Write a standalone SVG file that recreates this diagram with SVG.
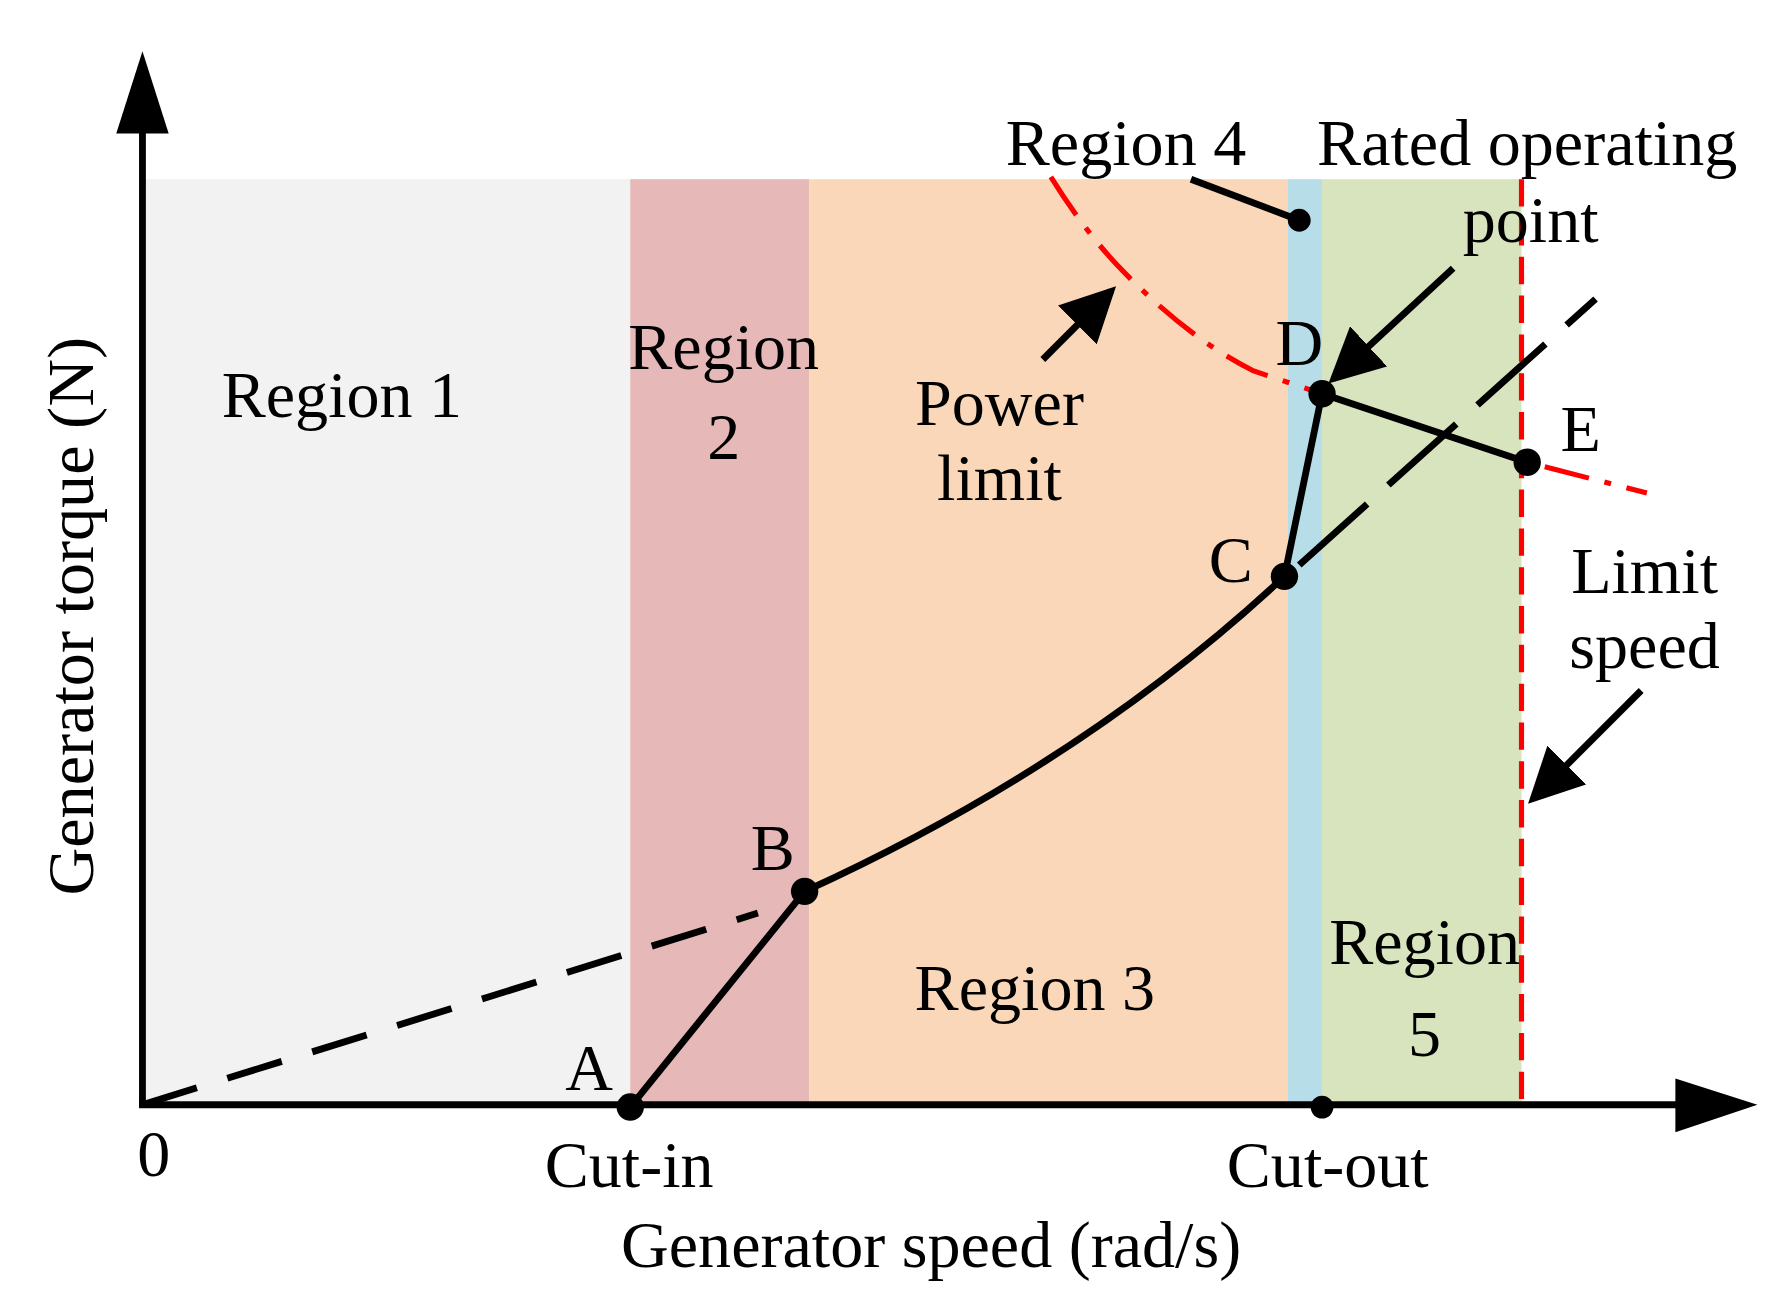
<svg xmlns="http://www.w3.org/2000/svg" width="1779" height="1300" viewBox="0 0 1779 1300">
<style>
text{font-family:"Liberation Serif","Times New Roman",serif;font-size:58px;fill:#000;text-anchor:middle}
.blk{stroke:#000;stroke-width:6;fill:none}
.red{stroke:#ff0000;stroke-width:4.5;fill:none}
</style>
<defs>
<marker id="ah" markerWidth="8" markerHeight="8" refX="7" refY="4" orient="auto" markerUnits="strokeWidth"><path d="M0,0 L8,4 L0,8 z" fill="#000"/></marker>
</defs>
<rect width="1779" height="1300" fill="#fff"/>
<g transform="scale(1.1397,1.1413)">
<g id="regions">
<rect x="125" y="157" width="428" height="811" fill="#f2f2f2"/>
<rect x="553" y="157" width="157" height="811" fill="#e6b8b7"/>
<rect x="710" y="157" width="420" height="811" fill="#fad7b8"/>
<rect x="1130" y="157" width="30" height="811" fill="#b7dde8"/>
<rect x="1160" y="157" width="175" height="811" fill="#d7e4bd"/>
</g>
<g id="connectors">
<line class="red" x1="1335" y1="157" x2="1335" y2="968" stroke-dasharray="24,10"/>
<path class="red" d="M922,155 Q950,200 980,232 Q1040,295 1100,325 L1160,345 L1340,405 L1445,432" stroke-dasharray="40,14,6,14"/>
<path class="blk" stroke-width="4" d="M125,968 L665,800" stroke-dasharray="50,28"/>
<path class="blk" stroke-width="4" d="M1140,495 L1400,262" stroke-dasharray="80,25"/>
<path class="blk" d="M553,970 L706,781 Q950,670 1127,505 L1160,345 L1340,405"/>
<line class="blk" stroke-width="4" x1="1045" y1="157" x2="1140" y2="193"/>
<line class="blk" stroke-width="4" x1="915" y1="315" x2="975" y2="255" marker-end="url(#ah)"/>
<line class="blk" stroke-width="4" x1="1275" y1="235" x2="1170" y2="332" marker-end="url(#ah)"/>
<line class="blk" stroke-width="4" x1="1440" y1="605" x2="1345" y2="700" marker-end="url(#ah)"/>
<line class="blk" x1="125" y1="115" x2="125" y2="970"/>
<line class="blk" x1="122" y1="968" x2="1475" y2="968"/>
<polygon points="125,45 102,117 148,117" fill="#000"/>
<polygon points="1542,968 1470,945 1470,992" fill="#000"/>
</g>
<g id="points" fill="#000">
<circle cx="553" cy="970" r="12"/>
<circle cx="706" cy="781" r="12"/>
<circle cx="1127" cy="505" r="12"/>
<circle cx="1160" cy="345" r="12"/>
<circle cx="1340" cy="405" r="12"/>
<circle cx="1140" cy="193" r="10"/>
<circle cx="1160" cy="970" r="10"/>
</g>
<g id="labels">
<text x="300" y="365">Region 1</text>
<text x="635" y="323">Region</text>
<text x="635" y="402">2</text>
<text x="877" y="372">Power</text>
<text x="877" y="438">limit</text>
<text x="988" y="145">Region 4</text>
<text x="1340" y="145">Rated operating</text>
<text x="1343" y="212">point</text>
<text x="1140" y="320">D</text>
<text x="1387" y="395">E</text>
<text x="1080" y="510">C</text>
<text x="678" y="762">B</text>
<text x="517" y="955">A</text>
<text x="1443" y="520">Limit</text>
<text x="1443" y="585">speed</text>
<text x="908" y="885">Region 3</text>
<text x="1250" y="845">Region</text>
<text x="1250" y="925">5</text>
<text x="135" y="1030">0</text>
<text x="552" y="1040">Cut-in</text>
<text x="1165" y="1040">Cut-out</text>
<text x="817" y="1110">Generator speed (rad/s)</text>
<text transform="translate(82,540) rotate(-90)">Generator torque (N)</text>
</g>
</g>
</svg>
